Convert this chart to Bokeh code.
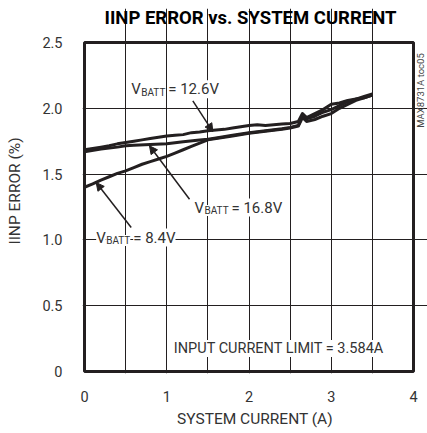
import math
from bokeh.plotting import figure
from bokeh.models import Label, Arrow, NormalHead, FixedTicker, BoxAnnotation
from bokeh.embed import file_html
from bokeh.resources import INLINE

# ---- data ----
x_126 = [0, 0.1, 0.2, 0.3, 0.4, 0.5, 0.6, 0.7, 0.8, 0.9, 1.0, 1.1, 1.2, 1.3, 1.4, 1.5, 1.6, 1.7, 1.8,
         1.9, 2.0, 2.1, 2.2, 2.3, 2.4, 2.5, 2.6, 2.65, 2.7, 2.8, 2.9, 3.0, 3.1, 3.2, 3.3, 3.4, 3.5]
y_126 = [1.685, 1.695, 1.705, 1.715, 1.73, 1.74, 1.75, 1.76, 1.77, 1.78, 1.79, 1.795, 1.80, 1.815, 1.82,
         1.83, 1.835, 1.84, 1.85, 1.86, 1.87, 1.875, 1.87, 1.875, 1.88, 1.885, 1.90, 1.96, 1.93, 1.96,
         1.99, 2.03, 2.04, 2.06, 2.07, 2.09, 2.11]

x_168 = [0, 0.2, 0.4, 0.5, 0.6, 0.8, 1.0, 1.2, 1.4, 1.5, 1.6, 1.8, 2.0, 2.2, 2.4, 2.5, 2.6, 2.65,
         2.7, 2.8, 2.9, 3.0, 3.1, 3.2, 3.3, 3.4, 3.5]
y_168 = [1.67, 1.69, 1.705, 1.715, 1.72, 1.725, 1.73, 1.745, 1.76, 1.765, 1.775, 1.795, 1.815, 1.83,
         1.845, 1.855, 1.87, 1.95, 1.92, 1.94, 1.97, 1.99, 2.02, 2.05, 2.07, 2.08, 2.10]

x_84 = [0, 0.1, 0.2, 0.3, 0.4, 0.5, 0.6, 0.7, 0.8, 0.9, 1.0, 1.1, 1.2, 1.3, 1.4, 1.5, 1.6, 1.8, 2.0,
        2.2, 2.4, 2.5, 2.6, 2.65, 2.7, 2.8, 2.9, 3.0, 3.1, 3.2, 3.3, 3.4, 3.5]
y_84 = [1.40, 1.425, 1.455, 1.48, 1.505, 1.525, 1.55, 1.575, 1.595, 1.615, 1.635, 1.66, 1.685, 1.71,
        1.735, 1.76, 1.77, 1.79, 1.81, 1.825, 1.84, 1.85, 1.865, 1.93, 1.90, 1.915, 1.94, 1.96, 2.00,
        2.03, 2.06, 2.08, 2.10]

x_ticks = [0, 1, 2, 3, 4]
y_ticks = [0, 0.5, 1.0, 1.5, 2.0, 2.5]
y_tick_labels = {0: "0", 0.5: "0.5", 1.0: "1.0", 1.5: "1.5", 2.0: "2.0", 2.5: "2.5"}
x_grid = [0.5, 1, 1.5, 2, 2.5, 3, 3.5]
y_grid = [0.5, 1.0, 1.5, 2.0]

FONT = "Roboto"
INK = "#231f20"
GREY = "#333333"

p = figure(frame_width=345, frame_height=365, x_range=(-0.0243, 4.170), y_range=(-0.0152, 2.7584),
           output_backend="svg", toolbar_location=None,
           min_border_left=82, min_border_right=0, min_border_top=8, min_border_bottom=46)
p.background_fill_color = "white"
p.border_fill_color = "white"
p.outline_line_color = None

p.xaxis.ticker = FixedTicker(ticks=x_ticks)
p.yaxis.ticker = FixedTicker(ticks=y_ticks)
p.yaxis.major_label_overrides = y_tick_labels
p.xaxis.bounds = (0, 4)
p.yaxis.bounds = (0, 2.5)
p.xgrid.ticker = FixedTicker(ticks=x_grid)
p.ygrid.ticker = FixedTicker(ticks=y_grid)
p.xgrid.bounds = (0, 2.5)
p.ygrid.bounds = (0, 4)
for g in (p.xgrid, p.ygrid):
    g.grid_line_color = INK
    g.grid_line_width = 1
    g.grid_line_alpha = 1

for ax in (p.xaxis, p.yaxis):
    ax.axis_line_color = None
    ax.major_tick_line_color = None
    ax.minor_tick_line_color = None
    ax.major_label_text_font = FONT
    ax.major_label_text_font_size = "14.5px"
    ax.major_label_text_color = GREY
    ax.axis_label_text_font = FONT
    ax.axis_label_text_font_size = "15.5px"
    ax.axis_label_text_font_style = "normal"
    ax.axis_label_text_color = GREY

p.xaxis.axis_label = "SYSTEM CURRENT (A)"
p.yaxis.axis_label = "IINP ERROR (%)"
p.xaxis.major_label_standoff = 11
p.xaxis.axis_label_standoff = 5
p.yaxis.major_label_standoff = 14
p.yaxis.axis_label_standoff = 15

# plot frame (thick border)
p.add_layout(BoxAnnotation(left=0, right=4, bottom=0, top=2.5, fill_alpha=0,
                           line_color=INK, line_width=3, line_alpha=1))

for xs, ys in ((x_84, y_84), (x_168, y_168), (x_126, y_126)):
    p.line(xs, ys, line_color=INK, line_width=3, line_join="round")

# annotations
def vbatt(x, y, rest):
    kw = dict(text_font=FONT, text_color=GREY, text_baseline="middle",
              background_fill_color="white", background_fill_alpha=1)
    p.add_layout(Label(x=x, y=y, text="V", text_font_size="15px", **kw))
    p.add_layout(Label(x=x, y=y, x_offset=10, y_offset=-3, text="BATT", text_font_size="10px", **kw))
    p.add_layout(Label(x=x, y=y, x_offset=37, text="= " + rest, text_font_size="15px", **kw))

vbatt(0.568, 2.145, "12.6V")
vbatt(1.337, 1.246, "16.8V")
vbatt(0.142, 1.018, "8.4V")

p.add_layout(Label(x=1.086, y=0.175, text="INPUT CURRENT LIMIT = 3.584A", text_font=FONT,
                   text_font_size="14.5px", text_color=GREY, text_baseline="middle",
                   background_fill_color="white", background_fill_alpha=1))

for (x0, y0, x1, y1) in ((1.317, 2.057, 1.56, 1.823), (1.277, 1.309, 0.79, 1.715), (0.568, 1.094, 0.142, 1.436)):
    p.add_layout(Arrow(x_start=x0, y_start=y0, x_end=x1, y_end=y1, line_color=INK, line_width=1.5,
                       end=NormalHead(size=8, fill_color=INK, line_color=INK)))

p.add_layout(Label(x=2.018, y=2.69, text="IINP ERROR vs. SYSTEM CURRENT", text_font=FONT,
                   text_font_size="18.5px", text_font_style="bold", text_color="black",
                   text_align="center", text_baseline="middle"))
p.add_layout(Label(x=4.0, y=2.135, x_offset=7, text="MAX8731A toc05", text_font=FONT, text_font_size="9.5px",
                   text_color="#444444", angle=math.pi / 2, text_align="center", text_baseline="middle"))

open("out.html", "w").write(file_html(p, INLINE))
